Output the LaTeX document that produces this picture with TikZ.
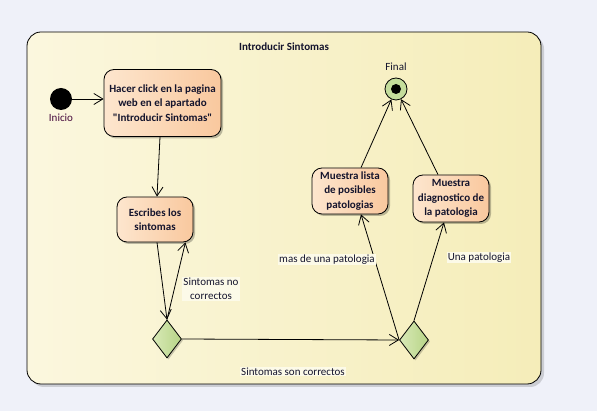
\documentclass[tikz,border=0pt]{standalone}
\usepackage{fontspec}
\setmainfont{Carlito}[Ligatures=TeXOff]
\usetikzlibrary{shapes.geometric,arrows.meta,shadows}
\definecolor{bgc}{RGB}{239,241,249}
\definecolor{frameL}{RGB}{251,247,222}
\definecolor{frameR}{RGB}{245,237,185}
\definecolor{boxL}{RGB}{253,230,206}
\definecolor{boxR}{RGB}{249,200,158}
\definecolor{dL}{RGB}{216,233,183}
\definecolor{dR}{RGB}{183,212,134}
\definecolor{finc}{RGB}{196,221,156}
\definecolor{txt}{RGB}{20,20,45}
\definecolor{inic}{RGB}{70,10,60}
\definecolor{lblbg}{RGB}{252,250,232}
\tikzset{
  actbox/.style={draw=black, line width=0.8pt, rounded corners=10pt, left color=boxL, right color=boxR,
    align=center, font=\fontsize{11}{14.3}\selectfont\bfseries, text=txt, inner sep=0pt,
    drop shadow={shadow xshift=2pt, shadow yshift=-2pt, opacity=0.25, fill=black}},
  decis/.style={diamond, draw=black, line width=0.8pt, left color=dL, right color=dR, inner sep=0pt,
    minimum width=29pt, minimum height=38pt,
    drop shadow={shadow xshift=1.5pt, shadow yshift=-1.5pt, opacity=0.2, fill=black}},
  flow/.style={draw=black, line width=0.8pt, -{Straight Barb[length=9pt,width=11pt,line width=0.8pt]}},
  lbl/.style={fill=lblbg, inner sep=1pt, align=center, font=\fontsize{11}{14.3}\selectfont, text=txt},
}
\begin{document}
\begin{tikzpicture}[x=1pt,y=-1pt]
\useasboundingbox (0,0) rectangle (597,411);
\fill[bgc] (0,0) rectangle (597,411);
% frame
\fill[black,opacity=0.15,rounded corners=14pt] (30,35) rectangle (544,387);
\shade[left color=frameL,right color=frameR,rounded corners=14pt] (27,32) rectangle (541,384);
\draw[black,line width=0.8pt,rounded corners=14pt] (27,32) rectangle (541,384);
\node[font=\fontsize{11}{12}\selectfont\bfseries, text=txt] (title) at (284,47) {Introducir Sintomas};
% initial
\node[circle, fill=black, minimum size=22pt, inner sep=0pt] (init) at (61,99) {};
\node[font=\fontsize{11}{12}\selectfont, text=inic] (inilbl) at (61,118) {Inicio};
% final
\node[circle, draw=black, line width=0.8pt, fill=finc, minimum size=22pt, inner sep=0pt] (final) at (396,89) {};
\node[circle, fill=black, minimum size=10pt, inner sep=0pt] (finalin) at (396,89) {};
\node[font=\fontsize{11}{12}\selectfont, text=txt] (finlbl) at (396,67) {Final};
% boxes
\node[actbox, minimum width=117pt, minimum height=67pt] (b1) at (162.5,103) {Hacer click en la pagina\\web en el apartado\\ "Introducir Sintomas"};
\node[actbox, minimum width=76pt, minimum height=45pt] (b2) at (155,219.5) {Escribes los\\sintomas};
\node[actbox, minimum width=76pt, minimum height=46pt] (b3) at (350,191) {Muestra lista\\de posibles\\patologias};
\node[actbox, minimum width=76pt, minimum height=47pt] (b4) at (451,198.5) {Muestra\\diagnostico de\\la patologia};
% decisions
\node[decis] (d1) at (167,339) {};
\node[decis] (d2) at (414,340) {};
% connectors
\draw[flow] (init.east) -- (init.east -| b1.west);
\draw[flow] ([xshift=-2.5pt]b1.south) -- ([xshift=2pt]b2.north);
\draw[flow] ([xshift=2pt]b2.south) -- (d1.north);
\draw[flow] (d1.north) -- ([xshift=-8pt]b2.south east);
\draw[flow] (d1.east) -- (d2.west);
\draw[flow] (d2.west) -- ([xshift=11pt]b3.south);
\draw[flow] (d2.north) -- ([xshift=-7pt]b4.south);
\draw[flow] ([xshift=11pt]b3.north) -- (final);
\draw[flow] ([xshift=-13pt]b4.north) -- (final);
% labels
\node[lbl] (l1) at (211,289) {Sintomas no\\correctos};
\node[lbl] (l2) at (293,371.5) {Sintomas son correctos};
\node[lbl] (l3) at (327,259.5) {mas de una patologia};
\node[lbl] (l4) at (479,257.5) {Una patologia};
\end{tikzpicture}
\end{document}
